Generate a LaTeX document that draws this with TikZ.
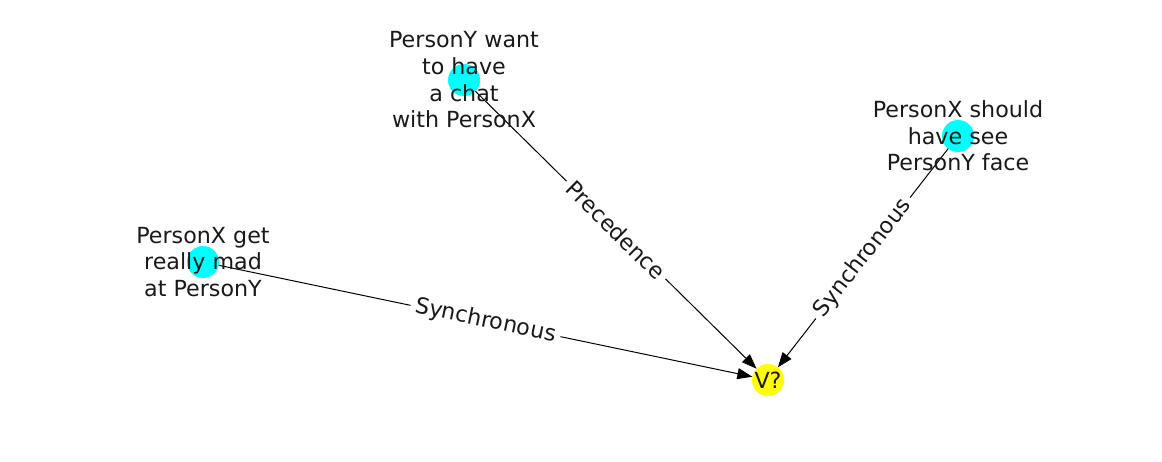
\documentclass[tikz,border=0pt]{standalone}
\usepackage{fontspec}
\setmainfont{DejaVu Sans}
\usetikzlibrary{arrows.meta}
\definecolor{evcyan}{RGB}{0,255,255}
\definecolor{goalyellow}{RGB}{255,255,0}

\begin{document}
\begin{tikzpicture}[x=1pt,y=1pt,line width=1pt,
  >={Triangle[length=15pt,width=11pt]},
  ev/.style={circle,fill=evcyan,minimum size=32pt,inner sep=0pt,outer sep=0pt},
  goal/.style={ev,fill=goalyellow},
  txt/.style={align=center,text=black!90,font=\fontsize{22.2}{26.7}\selectfont},
  rel/.style={sloped,fill=white,inner sep=5pt,text=black!90,font=\fontsize{22.2}{26.7}\selectfont}]
\useasboundingbox (0,0) rectangle (1162,-462);

\node[ev] (want) at (464,-80) {};
\node[ev] (see) at (958,-136) {};
\node[ev] (mad) at (203,-262) {};
\node[goal] (v) at (768,-380) {};

\path[->]
(mad) edge node[rel] {Synchronous} (v)
(want) edge node[rel] {Precedence} (v)
(see) edge node[rel] {Synchronous} (v)
; %end path

\node[txt] (want_t) at (want) {PersonY want\\to have\\a chat\\with PersonX};
\node[txt] (see_t) at (see) {PersonX should\\have see\\PersonY face};
\node[txt] (mad_t) at (mad) {PersonX get\\really mad\\at PersonY};
\node[txt] (v_t) at (v) {V?};
\end{tikzpicture}
\end{document}
